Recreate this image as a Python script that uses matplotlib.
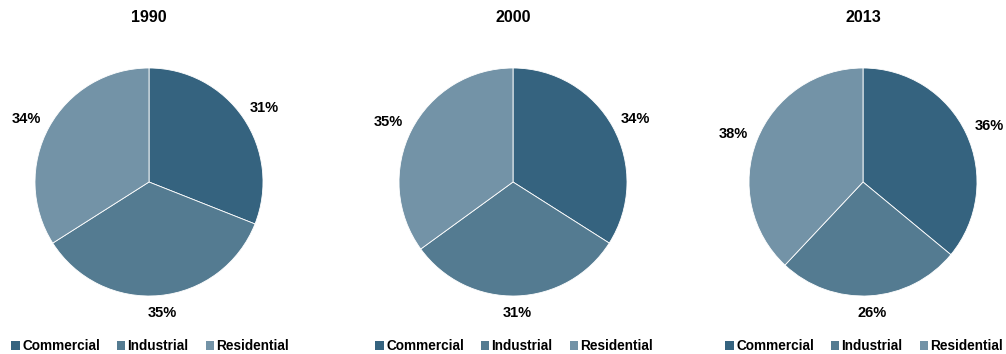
import numpy as np
import matplotlib.pyplot as plt
from matplotlib.patches import Patch

plt.rcParams['font.family'] = ['Liberation Sans', 'DejaVu Sans']

years = ['1990', '2000', '2013']
categories = ['Commercial', 'Industrial', 'Residential']
shares = {
    '1990': [31, 35, 34],
    '2000': [34, 31, 35],
    '2013': [36, 26, 38],
}
colors = ['#35637f', '#547b91', '#7393a7']

W, H = 1006, 354
fig = plt.figure(figsize=(W / 100, H / 100), dpi=100)

centers = [149, 513, 863]
cy = 182
r = 114

for year, cx in zip(years, centers):
    ax = fig.add_axes([(cx - r) / W, (H - cy - r) / H, 2 * r / W, 2 * r / H])
    vals = shares[year]
    wedges, _ = ax.pie(vals, colors=colors, startangle=90, counterclock=False,
                       wedgeprops=dict(edgecolor='white', linewidth=0.6))
    # labels sit just outside the rim, box pushed outward like Excel
    for w, v in zip(wedges, vals):
        ang = np.deg2rad((w.theta1 + w.theta2) / 2)
        c, s = np.cos(ang), np.sin(ang)
        ax.annotate(f'{v}%', xy=(1.1 * c, 1.1 * s),
                    xytext=(14 * c, 6 * s), textcoords='offset pixels',
                    ha='center', va='center', fontsize=10.5,
                    fontweight='bold', color='black', annotation_clip=False)
    ax.set_xlim(-1, 1)
    ax.set_ylim(-1, 1)
    ax.set_aspect('equal')
    ax.axis('off')
    fig.text(cx / W, 1 - 18 / H, year, ha='center', va='center',
             fontsize=11.5, fontweight='bold', color='black')

    handles = [Patch(facecolor=c, edgecolor='none') for c in colors]
    fig.legend(handles, categories, loc='center left',
               bbox_to_anchor=((cx - 143) / W, 1 - 346 / H), ncol=3,
               frameon=False, handlelength=0.6, handleheight=0.6,
               handletextpad=0.18, columnspacing=1.25, borderaxespad=0,
               prop=dict(size=9.8, weight='bold'))

fig.savefig('out.png', dpi=100, facecolor='white')
